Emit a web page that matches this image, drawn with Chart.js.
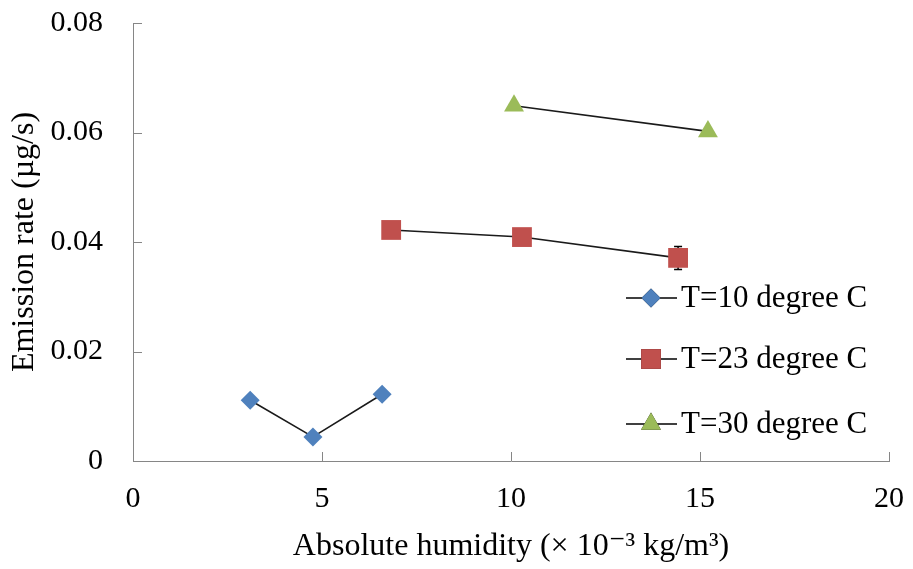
<!DOCTYPE html>
<html>
<head>
<meta charset="utf-8">
<script src="https://cdn.jsdelivr.net/npm/chart.js@4/dist/chart.umd.min.js"></script>
<style>
  html, body { margin: 0; padding: 0; background: #fff; }
  #wrap { width: 913px; height: 569px; }
</style>
</head>
<body>
<div id="wrap"><canvas id="chart" width="913" height="569"></canvas></div>
<script>
// values
const seriesNames = ['T=10 degree C', 'T=23 degree C', 'T=30 degree C'];
const humidity10 = [3.1, 4.76, 6.59];
const rate10 = [0.0111, 0.0044, 0.0122];
const err10 = [0.0006, 0.0005, 0.0006];
const humidity23 = [6.83, 10.29, 14.42];
const rate23 = [0.0422, 0.0409, 0.0371];
const err23 = [0.0005, 0.0006, 0.0021];
const humidity30 = [10.08, 15.21];
const rate30 = [0.0649, 0.0602];
const err30 = [0.0004, 0.0004];
const xTicks = [0, 5, 10, 15, 20];
const yTicks = [0, 0.02, 0.04, 0.06, 0.08];

const toPoints = (xs, ys) => xs.map((x, i) => ({ x: x, y: ys[i] }));
const serif = "'Liberation Serif', 'DejaVu Serif', serif";
const axisGrey = '#868686';

const seriesStyle = [
  { color: '#4F81BD', shape: 'rectRot', radius: 9.5 },
  { color: '#C0504D', shape: 'rect', radius: 14 },
  { color: '#9BBB59', shape: 'triangle', radius: 11.5 },
];
const errors = [err10, err23, err30];

const makeSet = (i, xs, ys) => ({
  label: seriesNames[i],
  data: toPoints(xs, ys),
  borderColor: '#1a1a1a',
  borderWidth: 1.6,
  pointStyle: seriesStyle[i].shape,
  pointRadius: seriesStyle[i].radius,
  pointHoverRadius: seriesStyle[i].radius,
  pointBackgroundColor: seriesStyle[i].color,
  pointBorderColor: seriesStyle[i].color,
  pointBorderWidth: 0,
  fill: false,
  tension: 0,
});

// keep the plot box fixed: labels may overhang the padding
const noOverhang = s => {
  s.paddingTop = 0; s.paddingBottom = 0;
  s.paddingLeft = 0; s.paddingRight = 0;
};

// error bars (under the markers), inside tick marks and the legend
const extras = {
  id: 'extras',
  beforeDatasetsDraw(chart) {
    const ctx = chart.ctx;
    const xs = chart.scales.x, ys = chart.scales.y;
    ctx.save();
    ctx.strokeStyle = '#000';
    ctx.lineWidth = 1.5;
    chart.data.datasets.forEach((ds, i) => {
      ds.data.forEach((p, j) => {
        const e = errors[i][j];
        const px = xs.getPixelForValue(p.x);
        const top = ys.getPixelForValue(p.y + e);
        const bot = ys.getPixelForValue(p.y - e);
        ctx.beginPath();
        ctx.moveTo(px, top); ctx.lineTo(px, bot);
        ctx.moveTo(px - 4, top); ctx.lineTo(px + 4, top);
        ctx.moveTo(px - 4, bot); ctx.lineTo(px + 4, bot);
        ctx.stroke();
      });
    });
    ctx.restore();
  },
  afterDraw(chart) {
    const ctx = chart.ctx;
    const xs = chart.scales.x, ys = chart.scales.y;
    const area = chart.chartArea;
    ctx.save();
    ctx.strokeStyle = axisGrey;
    ctx.lineWidth = 1;
    ctx.beginPath();
    yTicks.forEach(v => {
      const py = Math.round(ys.getPixelForValue(v)) + 0.5;
      ctx.moveTo(area.left, py); ctx.lineTo(area.left + 9, py);
    });
    xTicks.forEach(v => {
      const px = Math.round(xs.getPixelForValue(v)) + 0.5;
      ctx.moveTo(px, area.bottom); ctx.lineTo(px, area.bottom - 9);
    });
    ctx.stroke();

    // legend
    const legendY = [298, 359, 424];
    chart.data.datasets.forEach((ds, i) => {
      const y = legendY[i];
      ctx.strokeStyle = '#000';
      ctx.lineWidth = 1.6;
      ctx.beginPath();
      ctx.moveTo(626, y); ctx.lineTo(677, y);
      ctx.stroke();
      Chart.helpers.drawPoint(ctx, {
        pointStyle: seriesStyle[i].shape,
        radius: seriesStyle[i].radius,
        rotation: 0,
        borderWidth: 0,
      }, 651, y);
      ctx.fillStyle = seriesStyle[i].color;
      ctx.fill();
      ctx.fillStyle = '#000';
      ctx.font = '31px ' + serif;
      ctx.textBaseline = 'middle';
      ctx.textAlign = 'left';
      ctx.fillText(ds.label, 681, y + 1);
    });
    ctx.restore();
  }
};

new Chart(document.getElementById('chart').getContext('2d'), {
  type: 'line',
  data: {
    datasets: [
      makeSet(0, humidity10, rate10),
      makeSet(1, humidity23, rate23),
      makeSet(2, humidity30, rate30),
    ],
  },
  options: {
    responsive: false,
    animation: false,
    layout: { padding: { top: 23, right: 24, left: 0, bottom: 0 } },
    plugins: { legend: { display: false }, tooltip: { enabled: false } },
    scales: {
      x: {
        type: 'linear',
        min: 0, max: 20,
        afterBuildTicks: s => { s.ticks = xTicks.map(v => ({ value: v })); },
        afterFit: s => { s.height = 108; noOverhang(s); },
        grid: { display: false, drawTicks: false },
        border: { display: true, color: axisGrey, width: 1 },
        ticks: { color: '#000', font: { family: serif, size: 30 }, padding: 20 },
        title: {
          display: true,
          text: 'Absolute humidity (\u00D7 10\u207B\u00B3 kg/m\u00B3)',
          color: '#000',
          font: { family: serif, size: 32 },
          padding: { top: 0, bottom: 3 },
        },
      },
      y: {
        type: 'linear',
        min: 0, max: 0.08,
        afterBuildTicks: s => { s.ticks = yTicks.map(v => ({ value: v })); },
        afterFit: s => { s.width = 133; noOverhang(s); },
        grid: { display: false, drawTicks: false },
        border: { display: true, color: axisGrey, width: 1 },
        ticks: {
          color: '#000',
          font: { family: serif, size: 30 },
          padding: 30,
          callback: v => (v === 0 ? '0' : v.toFixed(2)),
        },
        title: {
          display: true,
          text: 'Emission rate (\u00B5g/s)',
          color: '#000',
          font: { family: serif, size: 32 },
          padding: { top: 5, bottom: 0 },
        },
      },
    },
  },
  plugins: [extras],
});
</script>
</body>
</html>
